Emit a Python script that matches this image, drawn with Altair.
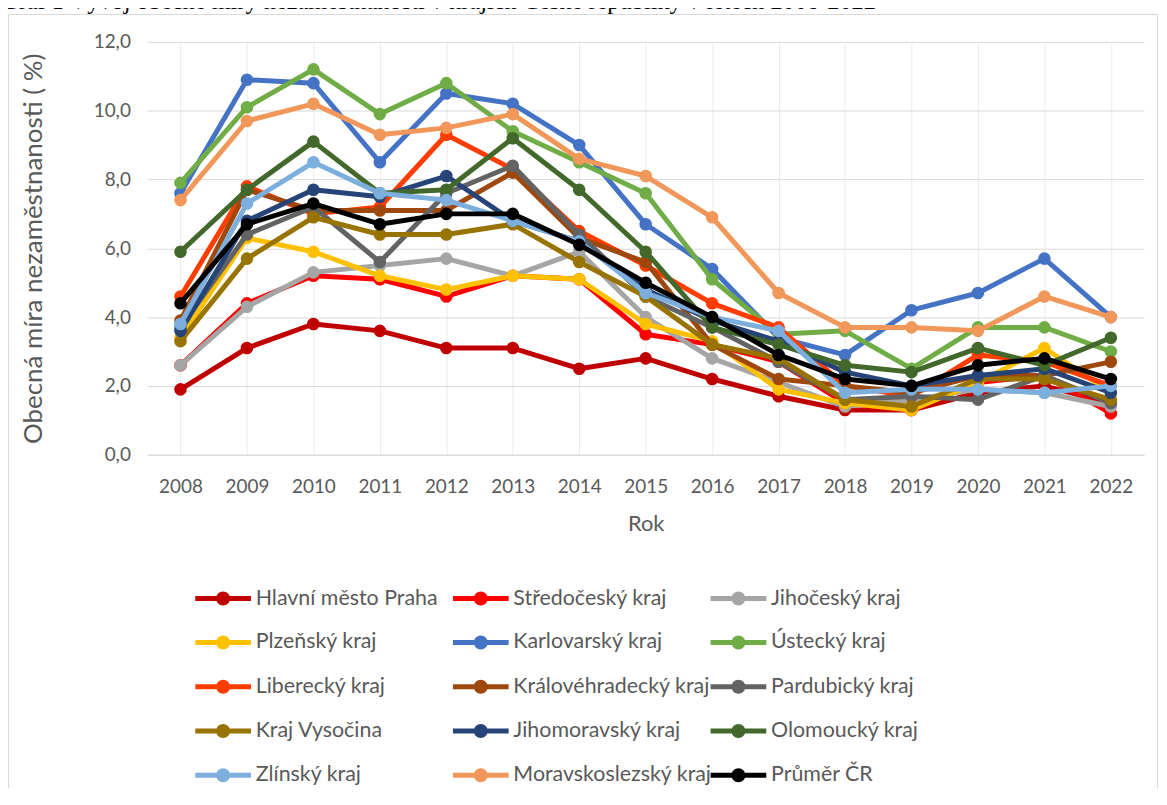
import altair as alt
import pandas as pd

TITLE = "Graf 1 Vývoj obecné míry nezaměstnanosti v krajích České republiky v letech 2008-2022"

roky = [str(r) for r in range(2008, 2023)]

kraje = [
    "Hlavní město Praha", "Středočeský kraj", "Jihočeský kraj",
    "Plzeňský kraj", "Karlovarský kraj", "Ústecký kraj",
    "Liberecký kraj", "Královéhradecký kraj", "Pardubický kraj",
    "Kraj Vysočina", "Jihomoravský kraj", "Olomoucký kraj",
    "Zlínský kraj", "Moravskoslezský kraj", "Průměr ČR",
]

barvy = [
    "#C00000", "#FF0000", "#A5A5A5",
    "#FFC000", "#4472C4", "#70AD47",
    "#FF3D00", "#9E480E", "#636363",
    "#997300", "#264478", "#43682B",
    "#7CAFDD", "#F1975A", "#000000",
]

praha = [1.9, 3.1, 3.8, 3.6, 3.1, 3.1, 2.5, 2.8, 2.2, 1.7, 1.3, 1.3, 1.8, 2.0, 1.5]
stredocesky = [2.6, 4.4, 5.2, 5.1, 4.6, 5.2, 5.1, 3.5, 3.2, 2.7, 1.5, 1.3, 2.1, 2.3, 1.2]
jihocesky = [2.6, 4.3, 5.3, 5.5, 5.7, 5.2, 5.9, 4.0, 2.8, 2.1, 1.4, 1.6, 1.9, 1.8, 1.4]
plzensky = [3.4, 6.3, 5.9, 5.2, 4.8, 5.2, 5.1, 3.8, 3.3, 1.9, 1.5, 1.3, 2.1, 3.1, 1.8]
karlovarsky = [7.6, 10.9, 10.8, 8.5, 10.5, 10.2, 9.0, 6.7, 5.4, 3.4, 2.9, 4.2, 4.7, 5.7, 4.0]
ustecky = [7.9, 10.1, 11.2, 9.9, 10.8, 9.4, 8.5, 7.6, 5.1, 3.5, 3.6, 2.5, 3.7, 3.7, 3.0]
liberecky = [4.6, 7.8, 7.0, 7.2, 9.3, 8.3, 6.5, 5.5, 4.4, 3.7, 2.0, 1.7, 2.9, 2.7, 2.0]
kralovehradecky = [3.9, 7.7, 7.1, 7.1, 7.1, 8.2, 6.3, 5.6, 3.2, 2.2, 2.0, 1.8, 2.3, 2.3, 2.7]
pardubicky = [3.7, 6.4, 7.2, 5.6, 7.6, 8.4, 6.4, 4.6, 3.7, 2.7, 1.6, 1.7, 1.6, 2.3, 1.5]
vysocina = [3.3, 5.7, 6.9, 6.4, 6.4, 6.7, 5.6, 4.6, 3.2, 2.8, 1.6, 1.4, 2.2, 2.2, 1.6]
jihomoravsky = [3.6, 6.8, 7.7, 7.5, 8.1, 6.8, 6.2, 4.8, 3.9, 3.3, 2.4, 2.0, 2.3, 2.5, 1.8]
olomoucky = [5.9, 7.7, 9.1, 7.6, 7.7, 9.2, 7.7, 5.9, 3.7, 3.2, 2.6, 2.4, 3.1, 2.6, 3.4]
zlinsky = [3.8, 7.3, 8.5, 7.6, 7.4, 6.8, 6.2, 4.7, 4.0, 3.6, 1.8, 1.9, 1.9, 1.8, 2.0]
moravskoslezsky = [7.4, 9.7, 10.2, 9.3, 9.5, 9.9, 8.6, 8.1, 6.9, 4.7, 3.7, 3.7, 3.6, 4.6, 4.0]
prumer = [4.4, 6.7, 7.3, 6.7, 7.0, 7.0, 6.1, 5.0, 4.0, 2.9, 2.2, 2.0, 2.6, 2.8, 2.2]

hodnoty = [praha, stredocesky, jihocesky, plzensky, karlovarsky, ustecky,
           liberecky, kralovehradecky, pardubicky, vysocina, jihomoravsky,
           olomoucky, zlinsky, moravskoslezsky, prumer]

y_ticks = [0, 2, 4, 6, 8, 10, 12]

rows = []
for k, vals in zip(kraje, hodnoty):
    for r, v in zip(roky, vals):
        rows.append({"kraj": k, "rok": r, "hodnota": v})
df = pd.DataFrame(rows)

W, H = 1002, 415
FONT = "Lato"
GRAY = "#595959"

xenc = alt.X(
    "rok:O",
    scale=alt.Scale(type="point", padding=0.5),
    axis=alt.Axis(
        title="Rok", labelAngle=0, ticks=False, grid=True, gridColor="#EBEBEB",
        domainColor="#D9D9D9", domainWidth=1,
        labelFont=FONT, labelFontSize=19, labelColor=GRAY, labelPadding=23,
        titleFont=FONT, titleFontSize=22, titleColor=GRAY, titleFontWeight="normal",
        titleY=59,
    ),
)
yenc = alt.Y(
    "hodnota:Q",
    scale=alt.Scale(domain=[0, 12]),
    axis=alt.Axis(
        values=y_ticks,
        labelExpr="replace(format(datum.value, '.1f'), '.', ',')",
        title="Obecná míra nezaměstnanosti ( %)",
        domain=False, ticks=False, gridColor="#D9D9D9", gridWidth=1,
        labelFont=FONT, labelFontSize=19, labelColor=GRAY, labelPadding=17,
        titleFont=FONT, titleFontSize=26, titleColor=GRAY, titleFontWeight="normal",
        titleX=-101,
    ),
)

cscale = alt.Scale(domain=kraje, range=barvy)

SYM = ("M-4,-0.36 H4 V0.36 H-4 Z "
       "M-1,0 A1,1 0 1,1 1,0 A1,1 0 1,1 -1,0 Z")

legend = alt.Legend(
    title=None, orient="none", direction="horizontal", legendX=65.5, legendY=548.5,
    columns=3,
    symbolType=SYM, symbolSize=196, symbolStrokeWidth=0,
    labelFont=FONT, labelFontSize=21.5, labelColor=GRAY, labelOffset=22,
    labelLimit=400, columnPadding=-2, rowPadding=21.5, gridAlign="all", padding=0,
)

border = alt.Chart(pd.DataFrame({"a": [0]})).mark_rect(
    fillOpacity=0, stroke="#D9D9D9", strokeWidth=1
).encode(
    x=alt.value(-139.5), x2=alt.value(1015.5), y=alt.value(-27.5), y2=alt.value(800)
)

titul = alt.Chart(pd.DataFrame({"t": [TITLE]})).mark_text(
    align="left", baseline="alphabetic", font="Liberation Serif", fontSize=24.5, color="black"
).encode(x=alt.value(-147), y=alt.value(-33.5), text="t:N")

layers = [border, titul]
for k in kraje:
    base = alt.Chart(df).transform_filter(alt.FieldEqualPredicate(field="kraj", equal=k))
    color = alt.Color("kraj:N", scale=cscale, legend=legend)
    line = base.mark_line(strokeWidth=5, strokeJoin="round", strokeCap="round").encode(
        x=xenc, y=yenc, color=color
    )
    pts = base.mark_circle(size=160, opacity=1).encode(
        x=xenc, y=yenc, color=color
    )
    layers += [line, pts]

chart = alt.layer(*layers).properties(
    width=W, height=H, autosize="none",
    padding={"left": 140, "top": 32, "right": 15, "bottom": 333},
    background="white",
).configure_view(stroke=None)

chart.save("out.html", embed_options={"renderer": "svg", "actions": False})
